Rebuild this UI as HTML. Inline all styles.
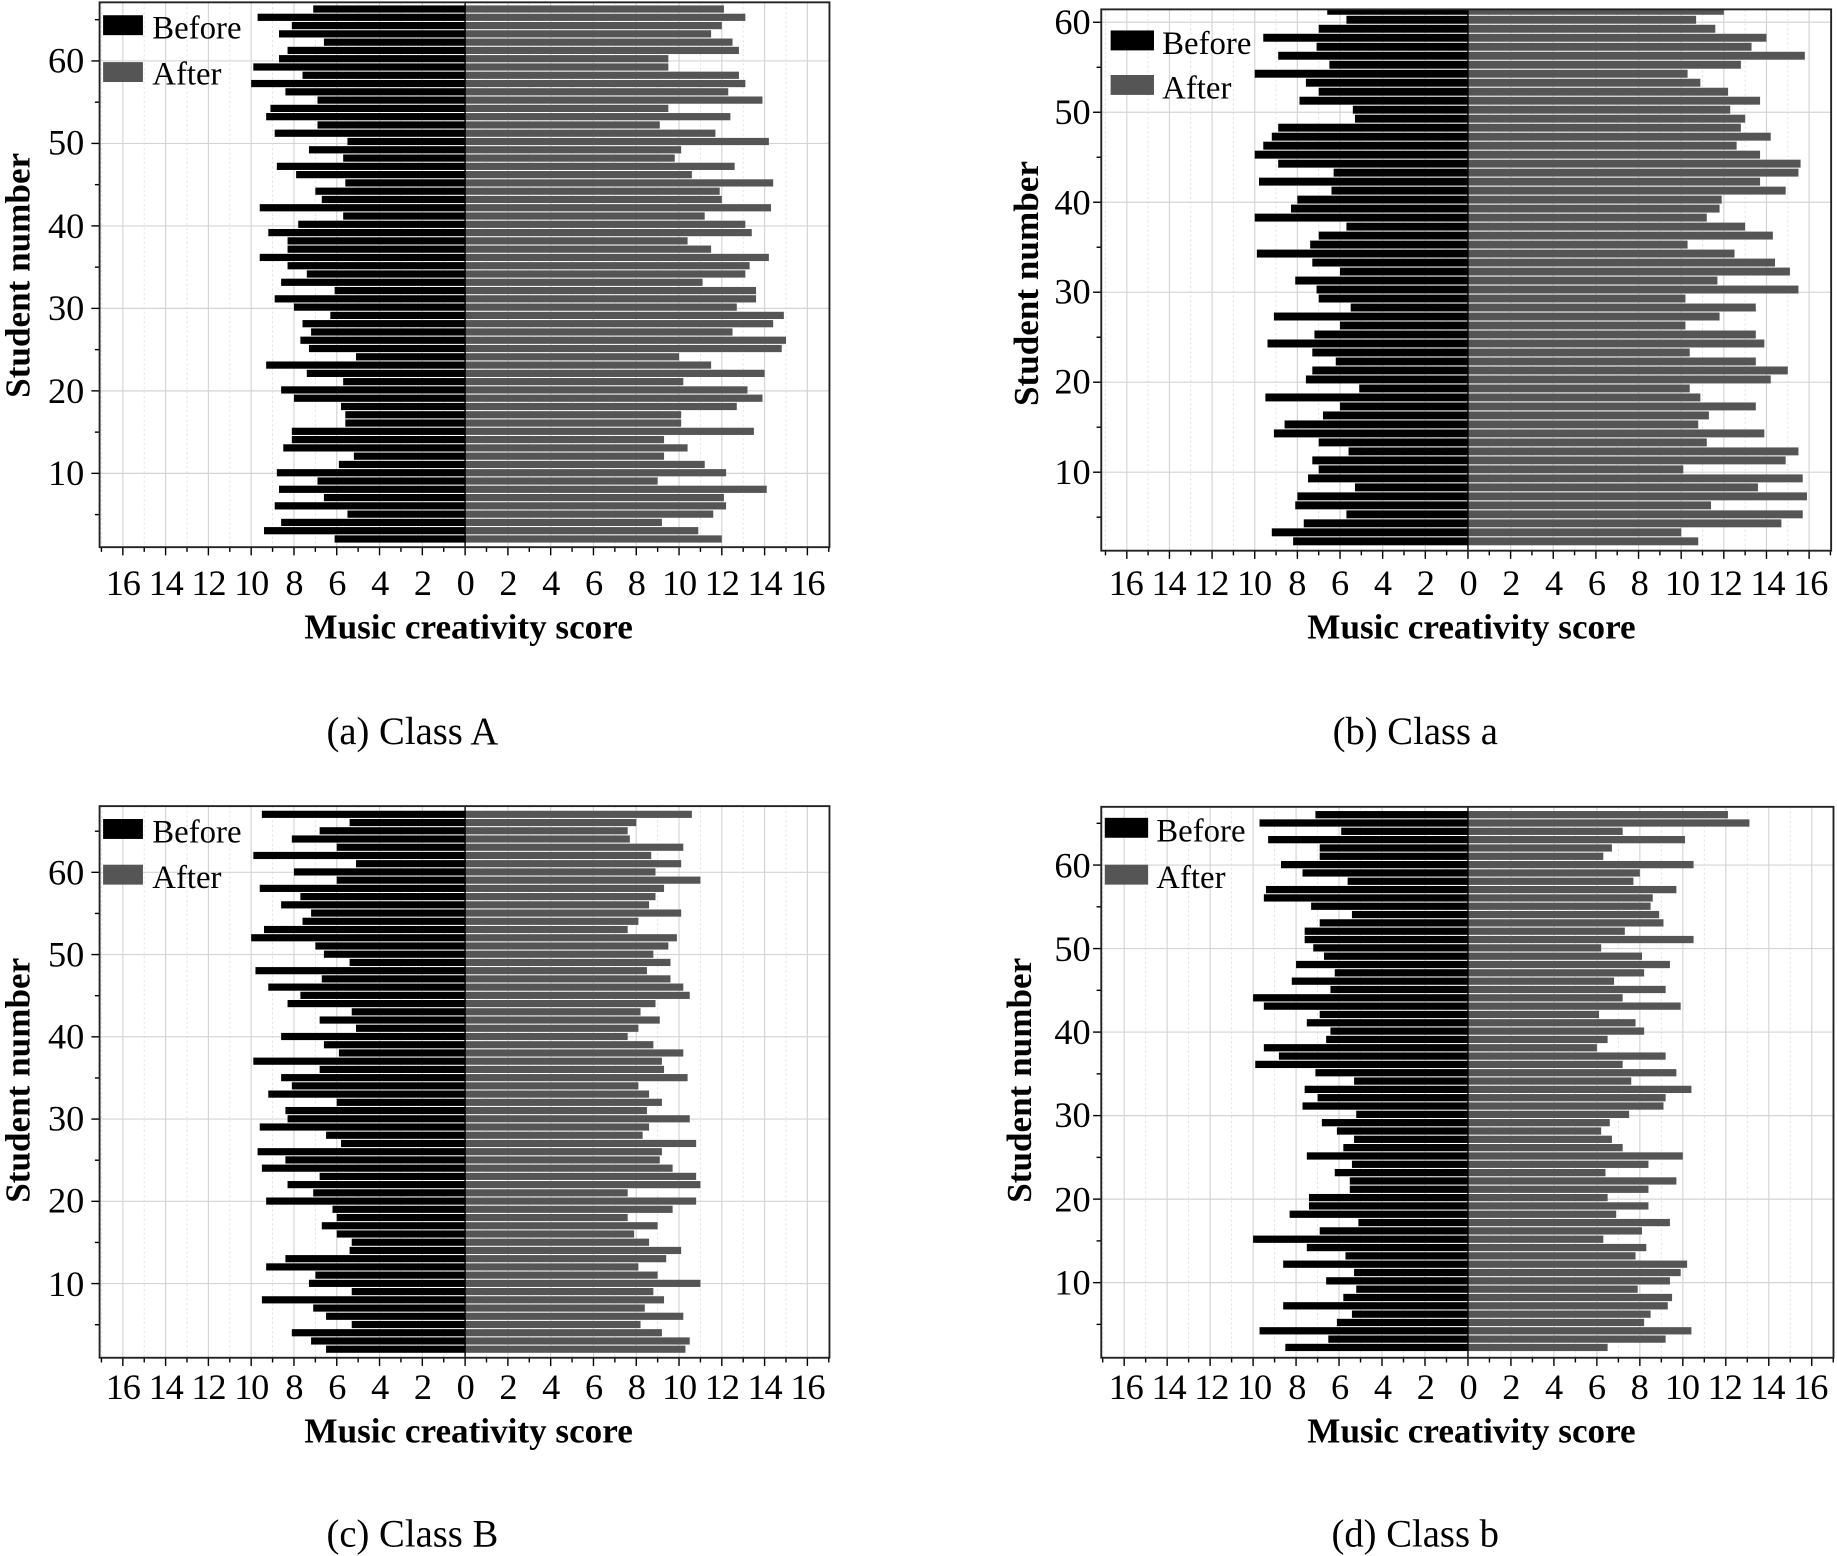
<!DOCTYPE html>
<html><head><meta charset="utf-8"><style>
html,body{margin:0;padding:0;background:#fff;width:1837px;height:1556px;overflow:hidden}
svg{display:block}
text{font-family:"Liberation Serif","DejaVu Serif",serif;fill:#000}
.t{font-size:31px;letter-spacing:-1px}
.b{font-size:30px;font-weight:bold;letter-spacing:0}
.y{font-size:31px}
.c{font-size:33px}
.l{font-size:28px}
</style></head><body>
<svg id="s" width="1837" height="1556" viewBox="0 0 1568 1328" preserveAspectRatio="none" xmlns="http://www.w3.org/2000/svg">
<g id="plots"></g>
<g class="t" text-anchor="middle">
<text x="104.8" y="508">16</text><text x="141.4" y="508">14</text><text x="177.9" y="508">12</text><text x="214.4" y="508">10</text><text x="250.9" y="508">8</text><text x="287.4" y="508">6</text><text x="324" y="508">4</text><text x="360.5" y="508">2</text><text x="397" y="508">0</text><text x="433.5" y="508">2</text><text x="470" y="508">4</text><text x="506.6" y="508">6</text><text x="543.1" y="508">8</text><text x="579.6" y="508">10</text><text x="616.1" y="508">12</text><text x="652.6" y="508">14</text><text x="689.2" y="508">16</text>
<text class="b" x="400" y="545">Music creativity score</text>
</g>
<g transform="translate(856,0)" class="t" text-anchor="middle">
<text x="104.8" y="508">16</text><text x="141.4" y="508">14</text><text x="177.9" y="508">12</text><text x="214.4" y="508">10</text><text x="250.9" y="508">8</text><text x="287.4" y="508">6</text><text x="324" y="508">4</text><text x="360.5" y="508">2</text><text x="397" y="508">0</text><text x="433.5" y="508">2</text><text x="470" y="508">4</text><text x="506.6" y="508">6</text><text x="543.1" y="508">8</text><text x="579.6" y="508">10</text><text x="616.1" y="508">12</text><text x="652.6" y="508">14</text><text x="689.2" y="508">16</text>
<text class="b" x="400" y="545">Music creativity score</text>
</g>
<g transform="translate(0,686)" class="t" text-anchor="middle">
<text x="104.8" y="508">16</text><text x="141.4" y="508">14</text><text x="177.9" y="508">12</text><text x="214.4" y="508">10</text><text x="250.9" y="508">8</text><text x="287.4" y="508">6</text><text x="324" y="508">4</text><text x="360.5" y="508">2</text><text x="397" y="508">0</text><text x="433.5" y="508">2</text><text x="470" y="508">4</text><text x="506.6" y="508">6</text><text x="543.1" y="508">8</text><text x="579.6" y="508">10</text><text x="616.1" y="508">12</text><text x="652.6" y="508">14</text><text x="689.2" y="508">16</text>
<text class="b" x="400" y="545">Music creativity score</text>
</g>
<g transform="translate(856,686)" class="t" text-anchor="middle">
<text x="104.8" y="508">16</text><text x="141.4" y="508">14</text><text x="177.9" y="508">12</text><text x="214.4" y="508">10</text><text x="250.9" y="508">8</text><text x="287.4" y="508">6</text><text x="324" y="508">4</text><text x="360.5" y="508">2</text><text x="397" y="508">0</text><text x="433.5" y="508">2</text><text x="470" y="508">4</text><text x="506.6" y="508">6</text><text x="543.1" y="508">8</text><text x="579.6" y="508">10</text><text x="616.1" y="508">12</text><text x="652.6" y="508">14</text><text x="689.2" y="508">16</text>
<text class="b" x="400" y="545">Music creativity score</text>
</g>
<g class="y" text-anchor="end">
<text x="72" y="414">10</text><text x="72" y="344">20</text><text x="72" y="273">30</text><text x="72" y="203">40</text><text x="72" y="132">50</text><text x="72" y="62">60</text>
<text x="931" y="413">10</text><text x="931" y="336">20</text><text x="931" y="259">30</text><text x="931" y="183">40</text><text x="931" y="106">50</text><text x="931" y="29">60</text>
<text x="72" y="1106">10</text><text x="72" y="1035">20</text><text x="72" y="965">30</text><text x="72" y="895">40</text><text x="72" y="825">50</text><text x="72" y="755">60</text>
<text x="931" y="1105">10</text><text x="931" y="1034">20</text><text x="931" y="962">30</text><text x="931" y="891">40</text><text x="931" y="820">50</text><text x="931" y="749">60</text>
</g>
<g class="b" text-anchor="middle">
<text transform="translate(25,235) rotate(-90)">Student number</text>
<text transform="translate(886,242) rotate(-90)">Student number</text>
<text transform="translate(25,922) rotate(-90)">Student number</text>
<text transform="translate(880,922) rotate(-90)">Student number</text>
</g>
<g class="c" text-anchor="middle">
<text x="352" y="635">(a) Class A</text>
<text x="1208" y="635">(b) Class a</text>
<text x="352" y="1320">(c) Class B</text>
<text x="1208" y="1320">(d) Class b</text>
</g>
<g class="l">
<rect x="88" y="13" width="34" height="17" fill="#000"/><text x="130" y="33">Before</text>
<rect x="88" y="53" width="34" height="17" fill="#555"/><text x="130" y="72">After</text>
<rect x="948" y="26" width="37" height="17" fill="#000"/><text x="992" y="46">Before</text>
<rect x="948" y="64" width="37" height="17" fill="#555"/><text x="992" y="84">After</text>
<rect x="88" y="699" width="34" height="17" fill="#000"/><text x="130" y="719">Before</text>
<rect x="88" y="738" width="34" height="17" fill="#555"/><text x="130" y="758">After</text>
<rect x="943" y="698" width="37" height="17" fill="#000"/><text x="987" y="718">Before</text>
<rect x="943" y="738" width="37" height="17" fill="#555"/><text x="987" y="758">After</text>
</g>
</svg>
<script>
var P=[
{L:85,R:708,T:2,B:467,z:397,u:18.26,f:7.7,l:460,t60:52,t10:404,
b:[7.1,9.7,8.1,8.7,6.6,8.3,8.7,9.9,7.6,10,8.4,6.9,9.1,9.3,6.9,8.9,5.5,7.3,5.7,8.8,7.9,5.6,7.0,6.7,9.6,5.7,7.8,9.2,8.3,8.3,9.6,8.3,7.4,8.6,6.1,8.9,8.0,6.3,7.6,7.2,7.7,7.3,5.1,9.3,7.4,5.7,8.6,8.0,5.8,5.6,5.6,8.1,8.1,8.5,5.2,5.9,8.8,6.9,8.7,6.6,8.9,5.5,8.6,9.4,6.1],
a:[12.1,13.1,12.0,11.5,12.5,12.8,9.5,9.5,12.8,13.1,12.3,13.9,9.5,12.4,9.1,11.7,14.2,10.1,9.8,12.6,10.6,14.4,11.9,12.0,14.3,11.2,13.1,13.4,10.4,11.5,14.2,13.3,13.1,11.1,13.6,13.6,12.7,14.9,14.4,12.5,15.0,14.8,10.0,11.5,14.0,10.2,13.2,13.9,12.7,10.1,10.1,13.5,9.3,10.4,9.3,11.2,12.2,9.0,14.1,12.1,12.2,11.6,9.2,10.9,12.0]},
{L:940,R:1563,T:8,B:470,z:1253,u:18.2,f:9.2,l:462,t60:19,t10:403,
b:[6.6,5.7,7.0,9.6,7.1,8.9,6.5,10.0,7.6,7.0,7.9,5.4,5.3,8.9,9.2,9.6,10.0,8.9,6.3,9.8,6.4,8.0,8.3,10.0,5.7,7.0,7.4,9.9,7.3,6.0,8.1,7.1,7.0,5.5,9.1,6.0,7.2,9.4,7.3,6.2,7.3,7.6,5.1,9.5,6.0,6.8,8.6,9.1,7.0,5.6,7.3,7.0,7.5,5.3,8.0,8.1,5.7,7.7,9.2,8.2],
a:[12.0,10.7,11.6,14.0,13.3,15.8,12.8,10.3,10.9,12.2,13.7,12.3,13.0,12.8,14.2,12.6,13.7,15.6,15.5,13.7,14.9,11.9,11.8,11.2,13.0,14.3,10.3,12.5,14.4,15.1,11.7,15.5,10.2,13.5,11.8,10.2,13.5,13.9,10.4,13.5,15.0,14.2,10.4,10.9,13.5,11.3,10.8,13.9,11.2,15.5,14.9,10.1,15.7,13.6,15.9,11.4,15.7,14.7,10.0,10.8]},
{L:85,R:708,T:688,B:1158.8,z:397,u:18.26,f:695,l:1151.5,t60:744.5,t10:1095.5,
b:[9.5,5.4,6.8,8.1,6.0,9.9,5.1,8.0,6.0,9.6,7.7,8.6,7.2,7.6,9.4,10.0,7.0,6.6,5.4,9.8,6.7,9.2,7.7,8.3,5.3,6.8,5.1,8.6,6.6,5.9,9.9,6.8,8.6,8.1,9.2,6.0,8.4,8.3,9.6,6.5,5.8,9.7,8.4,9.5,6.8,8.3,7.1,9.3,6.2,6.0,6.7,6.0,5.3,5.4,8.4,9.3,7.0,7.3,5.3,9.5,7.1,6.5,5.3,8.1,7.2,6.5],
a:[10.6,8.0,7.6,7.7,10.2,8.7,10.1,8.9,11.0,9.3,8.9,8.6,10.1,8.1,7.6,9.9,9.5,8.8,9.6,8.5,9.6,10.2,10.5,8.9,8.2,9.1,8.1,7.6,8.8,10.2,9.2,9.3,10.4,8.1,8.6,9.2,8.5,10.5,8.6,8.3,10.8,9.2,9.1,9.7,10.8,11.0,7.6,10.8,9.7,7.6,9.0,7.9,8.6,10.1,9.4,8.1,9.0,11.0,8.8,9.3,8.4,10.2,8.2,9.2,10.5,10.3]},
{L:940,R:1565,T:688.6,B:1158.8,z:1253,u:18.34,f:695.3,l:1150,t60:738.3,t10:1094.7,
b:[7.1,9.7,5.9,9.3,6.9,6.9,8.7,7.7,5.6,9.4,9.5,7.3,5.4,6.9,7.6,7.6,7.2,6.7,8.0,6.2,8.2,6.4,10.0,9.5,6.9,7.5,6.4,6.6,9.5,8.8,9.9,7.1,5.3,7.6,7.0,7.7,5.2,6.8,6.1,5.3,5.8,7.5,5.4,6.2,5.5,5.5,7.4,7.4,8.3,5.1,6.9,10.0,7.5,5.7,8.6,5.3,6.6,5.2,5.8,8.6,5.4,6.1,9.7,6.5,8.5],
a:[12.1,13.1,7.2,10.1,6.7,6.3,10.5,8.0,7.7,9.7,8.6,8.5,8.9,9.1,7.3,10.5,6.2,8.1,9.4,8.2,6.8,9.2,7.2,9.9,6.1,7.8,8.2,6.5,6.0,9.2,7.2,9.7,7.6,10.4,9.2,9.1,7.5,6.6,6.2,6.7,7.2,10.0,8.4,6.4,9.7,8.4,6.5,8.4,6.9,9.4,8.1,6.3,8.3,7.8,10.2,9.9,9.4,7.9,9.5,9.3,8.5,8.2,10.4,9.2,6.5]}
];
var G=document.getElementById("plots"),h="";
P.forEach(function(p){
  var py=(p.t10-p.t60)/50;
  for(var v=-17;v<=17;v++){var x=p.z+v*p.u; if(x<=p.L+1||x>=p.R-1||v==0)continue;
    if(v%2==0) h+='<line x1="'+x+'" y1="'+p.T+'" x2="'+x+'" y2="'+p.B+'" stroke="#d4d4d4" stroke-width="1"/>';
    else h+='<line x1="'+x+'" y1="'+p.T+'" x2="'+x+'" y2="'+p.B+'" stroke="#e2e2e2" stroke-width="0.8" stroke-dasharray="2,2"/>';}
  for(var k=10;k<=60;k+=10){var y=p.t10-(k-10)*py;
    h+='<line x1="'+p.L+'" y1="'+y+'" x2="'+p.R+'" y2="'+y+'" stroke="#d4d4d4" stroke-width="1"/>';}
  var n=p.b.length,pitch=(p.l-p.f)/(n-1),bh=pitch-0.9;
  for(var i=0;i<n;i++){var cy=p.f+i*pitch,y0=Math.max(cy-bh/2,p.T),y1=Math.min(cy+bh/2,p.B);
    h+='<rect x="'+(p.z-p.b[i]*p.u)+'" y="'+y0+'" width="'+(p.b[i]*p.u)+'" height="'+(y1-y0)+'" fill="#000"/>';
    h+='<rect x="'+p.z+'" y="'+y0+'" width="'+(p.a[i]*p.u)+'" height="'+(y1-y0)+'" fill="#555"/>';}
  h+='<line x1="'+p.z+'" y1="'+p.T+'" x2="'+p.z+'" y2="'+p.B+'" stroke="#000" stroke-width="1.2"/>';
  for(var v=-17;v<=17;v++){var x=p.z+v*p.u; if(x<p.L||x>p.R)continue;
    h+='<line x1="'+x+'" y1="'+p.B+'" x2="'+x+'" y2="'+(p.B+(v%2==0?7:4))+'" stroke="#000" stroke-width="1.2"/>';}
  for(var k=5;k<=65;k+=5){var y=p.t10-(k-10)*py; if(y<p.T||y>p.B)continue;
    h+='<line x1="'+p.L+'" y1="'+y+'" x2="'+(p.L-(k%10==0?7:4))+'" y2="'+y+'" stroke="#000" stroke-width="1.2"/>';}
  h+='<rect x="'+p.L+'" y="'+p.T+'" width="'+(p.R-p.L)+'" height="'+(p.B-p.T)+'" fill="none" stroke="#222" stroke-width="1.6"/>';
});
G.innerHTML=h;
</script>
</body></html>
